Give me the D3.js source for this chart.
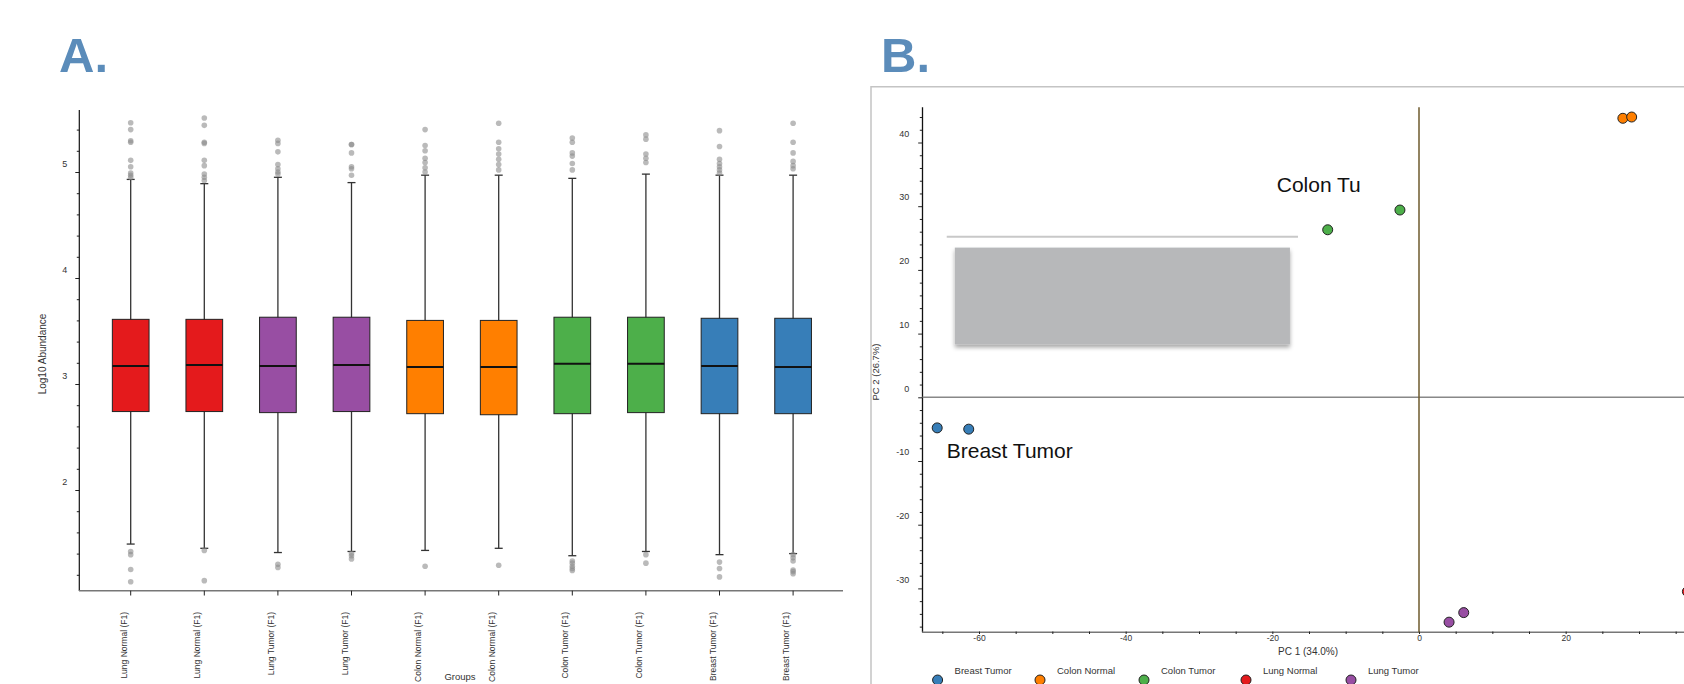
<!DOCTYPE html>
<html>
<head>
<meta charset="utf-8">
<script src="https://cdn.jsdelivr.net/npm/d3@7"></script>
<style>
  body { margin: 0; background: #fff; }
  svg { display: block; font-family: "Liberation Sans", Arial, sans-serif; }
</style>
</head>
<body>
<div id="wrapper"></div>
<script>
// panel A: boxplots of log10 abundance per sample
const groups = ["Lung Normal (F1)", "Lung Normal (F1)", "Lung Tumor (F1)", "Lung Tumor (F1)",
  "Colon Normal (F1)", "Colon Normal (F1)", "Colon Tumor (F1)", "Colon Tumor (F1)",
  "Breast Tumor (F1)", "Breast Tumor (F1)"]
const boxColors = ["#e41a1c", "#e41a1c", "#984ea3", "#984ea3", "#ff7f00", "#ff7f00",
  "#4daf4a", "#4daf4a", "#377eb8", "#377eb8"]
const q1 = [2.74, 2.74, 2.73, 2.74, 2.72, 2.71, 2.72, 2.73, 2.72, 2.72]
const medians = [3.17, 3.18, 3.17, 3.18, 3.16, 3.16, 3.19, 3.19, 3.17, 3.16]
const q3 = [3.61, 3.61, 3.63, 3.63, 3.60, 3.60, 3.63, 3.63, 3.62, 3.62]
const whiskLow = [1.49, 1.45, 1.41, 1.42, 1.43, 1.45, 1.38, 1.42, 1.39, 1.40]
const whiskHigh = [4.93, 4.89, 4.95, 4.90, 4.97, 4.97, 4.94, 4.98, 4.97, 4.97]
const outHigh = [
  [5.465, 5.40, 5.295, 5.28, 5.11, 5.05, 4.99, 4.97, 4.95],
  [5.51, 5.44, 5.28, 5.27, 5.11, 5.06, 4.98, 4.95, 4.92],
  [5.30, 5.27, 5.19, 5.07, 5.03, 5.00, 4.98],
  [5.26, 5.26, 5.18, 5.05, 5.03, 4.97],
  [5.40, 5.25, 5.20, 5.13, 5.09, 5.04, 5.00],
  [5.46, 5.28, 5.22, 5.17, 5.12, 5.07, 5.02],
  [5.32, 5.28, 5.18, 5.15, 5.08, 5.02],
  [5.35, 5.31, 5.17, 5.13, 5.09],
  [5.39, 5.24, 5.12, 5.08, 5.05, 5.02, 4.99],
  [5.46, 5.28, 5.18, 5.10, 5.06, 5.03]
]
const outLow = [
  [1.42, 1.39, 1.25, 1.135],
  [1.43, 1.145],
  [1.30, 1.27],
  [1.40, 1.38, 1.35],
  [1.28],
  [1.29],
  [1.33, 1.31, 1.28, 1.26, 1.24],
  [1.39, 1.31],
  [1.32, 1.26, 1.18],
  [1.39, 1.36, 1.33, 1.245, 1.23, 1.21]
]

// panel B: PCA scores
const pcGroups = ["Breast Tumor", "Colon Normal", "Colon Tumor", "Lung Normal", "Lung Tumor"]
const pcColors = ["#377eb8", "#ff7f00", "#4daf4a", "#e41a1c", "#984ea3"]
const sampleGroup = ["Breast Tumor", "Breast Tumor", "Colon Normal", "Colon Normal",
  "Colon Tumor", "Colon Tumor", "Lung Normal", "Lung Tumor", "Lung Tumor"]
const pc1 = [-65.7, -61.4, 27.8, 29.0, -12.45, -2.6, 36.6, 4.1, 6.1]
const pc2 = [-4.8, -5.0, 43.8, 44.0, 26.3, 29.4, -30.5, -35.3, -33.8]

const W = 1684, H = 684
const svg = d3.select("#wrapper").append("svg")
  .attr("width", W).attr("height", H)

const defs = svg.append("defs")
const shadow = defs.append("filter").attr("id", "shadow")
  .attr("x", "-10%").attr("y", "-10%").attr("width", "120%").attr("height", "130%")
shadow.append("feDropShadow").attr("dx", 0).attr("dy", 3).attr("stdDeviation", 2)
  .attr("flood-color", "#000").attr("flood-opacity", 0.35)

const plainNum = d => String(d)

//! panel letters
svg.append("text").attr("x", 59).attr("y", 72).text("A.")
  .attr("font-size", 49).attr("font-weight", "bold").attr("fill", "#5b8cba")
svg.append("text").attr("x", 881).attr("y", 72).text("B.")
  .attr("font-size", 49).attr("font-weight", "bold").attr("fill", "#5b8cba")

//! ---------- panel A ----------
const yA = d3.scaleLinear().domain([1, 6]).range([596, 66])
const xA = d3.scaleLinear().domain([0, groups.length - 1]).range([130.7, 793.1])
const boxW = 36.7
const gA = svg.append("g")

// minor ticks
gA.append("g").attr("transform", "translate(79.3,0)")
  .call(d3.axisLeft(yA).tickValues(d3.range(12, 55, 2).map(d => d / 10)).tickSize(2.5).tickFormat(""))
  .call(g => g.select(".domain").remove())
  .call(g => g.selectAll("line").attr("stroke", "#222"))
// major ticks and labels (labels sit a bit above the tick like the original)
gA.append("g").attr("transform", "translate(79.3,0)")
  .call(d3.axisLeft(yA).tickValues([2, 3, 4, 5]).tickSize(4).tickPadding(8).tickFormat(plainNum))
  .call(g => g.select(".domain").remove())
  .call(g => g.selectAll("line").attr("stroke", "#222"))
  .call(g => g.selectAll("text").attr("dy", "-0.65em").attr("font-size", 9).attr("fill", "#333"))
gA.append("line").attr("x1", 79.3).attr("x2", 79.3).attr("y1", 110).attr("y2", 591)
  .attr("stroke", "#111").attr("stroke-width", 1.2)

gA.append("text").text("Log10 Abundance")
  .attr("transform", "translate(46,354) rotate(-90)")
  .attr("text-anchor", "middle").attr("font-size", 10).attr("fill", "#333")

// x axis
gA.append("line").attr("x1", 79).attr("x2", 843).attr("y1", 590.7).attr("y2", 590.7)
  .attr("stroke", "#777").attr("stroke-width", 1.5)
gA.selectAll(".xtick").data(groups).join("line").attr("class", "xtick")
  .attr("x1", (d, i) => xA(i)).attr("x2", (d, i) => xA(i))
  .attr("y1", 590.7).attr("y2", 595.5).attr("stroke", "#222")
gA.selectAll(".xlab").data(groups).join("text").attr("class", "xlab")
  .attr("transform", (d, i) => `translate(${xA(i) - 4},612) rotate(-90)`)
  .attr("text-anchor", "end").attr("font-size", 8.5).attr("fill", "#333")
  .text(d => d)
gA.append("text").text("Groups").attr("x", 460).attr("y", 680)
  .attr("text-anchor", "middle").attr("font-size", 9.5).attr("fill", "#333")

// boxes
const boxes = gA.selectAll(".box").data(groups).join("g").attr("class", "box")
boxes.append("line")
  .attr("x1", (d, i) => xA(i)).attr("x2", (d, i) => xA(i))
  .attr("y1", (d, i) => yA(whiskHigh[i])).attr("y2", (d, i) => yA(whiskLow[i]))
  .attr("stroke", "#333").attr("stroke-width", 1.3)
boxes.append("line")
  .attr("x1", (d, i) => xA(i) - 4).attr("x2", (d, i) => xA(i) + 4)
  .attr("y1", (d, i) => yA(whiskHigh[i])).attr("y2", (d, i) => yA(whiskHigh[i]))
  .attr("stroke", "#333").attr("stroke-width", 1.3)
boxes.append("line")
  .attr("x1", (d, i) => xA(i) - 4).attr("x2", (d, i) => xA(i) + 4)
  .attr("y1", (d, i) => yA(whiskLow[i])).attr("y2", (d, i) => yA(whiskLow[i]))
  .attr("stroke", "#333").attr("stroke-width", 1.3)
boxes.append("rect")
  .attr("x", (d, i) => xA(i) - boxW / 2).attr("width", boxW)
  .attr("y", (d, i) => yA(q3[i])).attr("height", (d, i) => yA(q1[i]) - yA(q3[i]))
  .attr("fill", (d, i) => boxColors[i]).attr("stroke", "#222").attr("stroke-width", 1)
boxes.append("line")
  .attr("x1", (d, i) => xA(i) - boxW / 2).attr("x2", (d, i) => xA(i) + boxW / 2)
  .attr("y1", (d, i) => yA(medians[i])).attr("y2", (d, i) => yA(medians[i]))
  .attr("stroke", "#111").attr("stroke-width", 2)

// outliers
const outs = []
groups.forEach((g, i) => {
  outHigh[i].forEach(v => outs.push({ i, v }))
  outLow[i].forEach(v => outs.push({ i, v }))
})
gA.selectAll(".out").data(outs).join("circle").attr("class", "out")
  .attr("cx", d => xA(d.i)).attr("cy", d => yA(d.v)).attr("r", 2.8)
  .attr("fill", "#8c8c8c").attr("fill-opacity", 0.6)

//! ---------- panel B ----------
const xB = d3.scaleLinear().domain([-60, 0]).range([979, 1419])
const yB = d3.scaleLinear().domain([0, 40]).range([397.3, 142.5])
const gB = svg.append("g")

// frame
gB.append("path").attr("d", `M871,${H}V86.7H${W}`)
  .attr("fill", "none").attr("stroke", "#c4c4c4").attr("stroke-width", 1.5)

// overlay box and line
gB.append("line").attr("x1", xB(-64.4)).attr("x2", xB(-16.5))
  .attr("y1", yB(25.2)).attr("y2", yB(25.2)).attr("stroke", "#c8c8c8").attr("stroke-width", 2)
gB.append("rect").attr("x", xB(-63.3)).attr("width", xB(-17.6) - xB(-63.3))
  .attr("y", yB(23.5)).attr("height", yB(8.3) - yB(23.5))
  .attr("fill", "#b7b8ba").attr("filter", "url(#shadow)")

// y axis
gB.append("g").attr("transform", "translate(922.5,0)")
  .call(d3.axisLeft(yB).tickValues(d3.range(-36, 46, 2).filter(d => d % 10 !== 0)).tickSize(2.7).tickFormat(""))
  .call(g => g.select(".domain").remove())
  .call(g => g.selectAll("line").attr("stroke", "#222"))
gB.append("g").attr("transform", "translate(922.5,0)")
  .call(d3.axisLeft(yB).tickValues([-30, -20, -10, 0, 10, 20, 30, 40]).tickSize(4.3).tickPadding(9).tickFormat(plainNum))
  .call(g => g.select(".domain").remove())
  .call(g => g.selectAll("line").attr("stroke", "#222"))
  .call(g => g.selectAll("text").attr("dy", "-0.7em").attr("font-size", 9).attr("fill", "#333"))
gB.append("line").attr("x1", 922.5).attr("x2", 922.5).attr("y1", 107.3).attr("y2", 632.3)
  .attr("stroke", "#111").attr("stroke-width", 1.3)

// x axis
gB.append("line").attr("x1", 922).attr("x2", W).attr("y1", 632.3).attr("y2", 632.3)
  .attr("stroke", "#777").attr("stroke-width", 1.5)
gB.append("g").attr("transform", "translate(0,631.5)")
  .call(d3.axisBottom(xB).tickValues(d3.range(-65, 40, 5)).tickSize(2.5).tickPadding(1).tickFormat(d => d % 20 === 0 ? String(d) : ""))
  .call(g => g.select(".domain").remove())
  .call(g => g.selectAll("line").attr("stroke", "#222"))
  .call(g => g.selectAll("text").attr("font-size", 8.5).attr("fill", "#333"))

// zero lines
gB.append("line").attr("x1", 922.5).attr("x2", W).attr("y1", yB(0)).attr("y2", yB(0))
  .attr("stroke", "#888").attr("stroke-width", 1.5)
gB.append("line").attr("x1", xB(0)).attr("x2", xB(0)).attr("y1", 107.3).attr("y2", 632.3)
  .attr("stroke", "#6e5a2c").attr("stroke-width", 1.5)

// axis titles
gB.append("text").text("PC 1 (34.0%)").attr("x", 1308).attr("y", 655)
  .attr("text-anchor", "middle").attr("font-size", 10).attr("fill", "#333")
gB.append("text").text("PC 2 (26.7%)")
  .attr("transform", "translate(879,372) rotate(-90)")
  .attr("text-anchor", "middle").attr("font-size", 9.5).attr("fill", "#333")

// points
const colorB = d3.scaleOrdinal().domain(pcGroups).range(pcColors)
gB.selectAll(".pt").data(pc1).join("circle").attr("class", "pt")
  .attr("cx", (d, i) => xB(d)).attr("cy", (d, i) => yB(pc2[i])).attr("r", 5)
  .attr("fill", (d, i) => colorB(sampleGroup[i]))
  .attr("stroke", "#222").attr("stroke-width", 1)

// annotations
gB.append("text").text("Colon Tu").attr("x", xB(-19.4)).attr("y", yB(32.3))
  .attr("font-size", 21).attr("fill", "#111")
gB.append("text").text("Breast Tumor").attr("x", xB(-64.4)).attr("y", yB(-9.6))
  .attr("font-size", 21).attr("fill", "#111")

// legend
const legendX = [937.6, 1040, 1144, 1246, 1351]
const legend = gB.selectAll(".leg").data(pcGroups).join("g").attr("class", "leg")
  .attr("transform", (d, i) => `translate(${legendX[i]},0)`)
legend.append("circle").attr("cy", 680).attr("r", 5)
  .attr("fill", d => colorB(d)).attr("stroke", "#222").attr("stroke-width", 1)
legend.append("text").attr("x", 17).attr("y", 674).text(d => d)
  .attr("font-size", 9.5).attr("fill", "#333")
</script>
</body>
</html>
